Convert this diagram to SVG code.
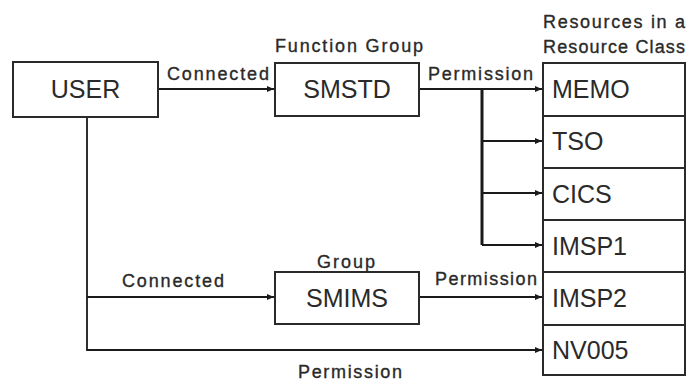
<svg xmlns="http://www.w3.org/2000/svg" width="689" height="381" viewBox="0 0 689 381">
<defs>
<style>
.box{fill:#fff;stroke:#2a2a2a;stroke-width:2}
.big{font-family:"Liberation Sans",Arial,sans-serif;font-size:25px;fill:#2a2a2a}
.lbl{font-family:"Liberation Sans",Arial,sans-serif;font-size:18px;fill:#2a2a2a;stroke:#2a2a2a;stroke-width:0.35}
.ln{fill:none;stroke:#1a1a1a;stroke-width:1.8}
</style>
<marker id="ah" markerWidth="8" markerHeight="8" refX="7" refY="4" orient="auto" markerUnits="userSpaceOnUse">
<path d="M0,1 L7,4 L0,7 Z" fill="#1a1a1a"/>
</marker>
</defs>
<rect width="689" height="381" fill="#fff"/>
<g id="connectors">
<path class="ln" d="M158,89 H274" marker-end="url(#ah)"/>
<path class="ln" d="M87,117 V350 H542" marker-end="url(#ah)"/>
<path class="ln" d="M87,297 H274" marker-end="url(#ah)"/>
<path class="ln" d="M419,89 H542" marker-end="url(#ah)"/>
<path fill="none" stroke="#1a1a1a" stroke-width="3" d="M482,89 V245"/>
<path class="ln" d="M482,141 H542" marker-end="url(#ah)"/>
<path class="ln" d="M482,193 H542" marker-end="url(#ah)"/>
<path class="ln" d="M482,245 H542" marker-end="url(#ah)"/>
<path class="ln" d="M419,297 H542" marker-end="url(#ah)"/>
<text class="lbl" x="167" y="80" textLength="102" lengthAdjust="spacing">Connected</text>
<text class="lbl" x="122" y="287" textLength="102" lengthAdjust="spacing">Connected</text>
<text class="lbl" x="428" y="80" textLength="105" lengthAdjust="spacing">Permission</text>
<text class="lbl" x="435" y="285" textLength="102" lengthAdjust="spacing">Permission</text>
<text class="lbl" x="298" y="378" textLength="104" lengthAdjust="spacing">Permission</text>
</g>
<g id="user">
<rect class="box" x="13" y="62" width="145" height="55"/>
<text class="big" x="85.5" y="98" text-anchor="middle">USER</text>
</g>
<g id="smstd">
<text class="lbl" x="275" y="52" textLength="148" lengthAdjust="spacing">Function Group</text>
<rect class="box" x="275" y="63" width="144" height="53"/>
<text class="big" x="347" y="98" text-anchor="middle">SMSTD</text>
</g>
<g id="smims">
<text class="lbl" x="317" y="268" textLength="58" lengthAdjust="spacing">Group</text>
<rect class="box" x="275" y="272" width="144" height="52"/>
<text class="big" x="347" y="307" text-anchor="middle">SMIMS</text>
</g>
<g id="resources">
<text class="lbl" x="543" y="28" textLength="142" lengthAdjust="spacing">Resources in a</text>
<text class="lbl" x="543" y="53" textLength="142" lengthAdjust="spacing">Resource Class</text>
</g>
<g id="memo"><rect class="box" x="543" y="63" width="142" height="53"/><text class="big" x="552" y="98">MEMO</text></g>
<g id="tso"><rect class="box" x="543" y="116" width="142" height="52"/><text class="big" x="552" y="150">TSO</text></g>
<g id="cics"><rect class="box" x="543" y="168" width="142" height="52"/><text class="big" x="552" y="203">CICS</text></g>
<g id="imsp1"><rect class="box" x="543" y="220" width="142" height="52"/><text class="big" x="552" y="255">IMSP1</text></g>
<g id="imsp2"><rect class="box" x="543" y="272" width="142" height="53"/><text class="big" x="552" y="307">IMSP2</text></g>
<g id="nv005"><rect class="box" x="543" y="325" width="142" height="50"/><text class="big" x="552" y="359">NV005</text></g>
</svg>
